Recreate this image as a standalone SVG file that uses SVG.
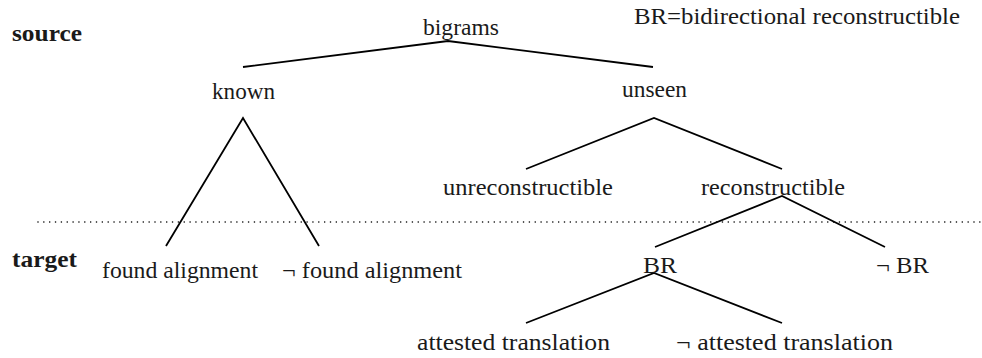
<svg xmlns="http://www.w3.org/2000/svg" width="982" height="358" viewBox="0 0 982 358">
<style>
text{font-family:"Liberation Serif","DejaVu Serif",serif;font-size:22.5px;fill:#1a1a1a}
.b{font-weight:bold}
.e{stroke:#000;stroke-width:1.8;fill:none;stroke-linejoin:miter}
.dot{stroke:#000;stroke-width:1.6;stroke-linecap:round;stroke-dasharray:0 5.85;fill:none}
</style>
<rect width="982" height="358" fill="#fff"/>
<g id="labels">
<text class="b" x="12" y="41" textLength="70" lengthAdjust="spacingAndGlyphs">source</text>
<text class="b" x="12" y="267" textLength="65" lengthAdjust="spacingAndGlyphs">target</text>
<text x="634" y="24" textLength="326" lengthAdjust="spacingAndGlyphs">BR=bidirectional reconstructible</text>
</g>
<g id="sep"><line class="dot" x1="38" y1="222" x2="982" y2="222"/></g>
<g id="connectors">
<polyline class="e" points="243,67 448,41 653,67"/>
<polyline class="e" points="166,246 243,118 319,246"/>
<polyline class="e" points="526,169 654,118 782,169"/>
<polyline class="e" points="655,247 782,196 885,247"/>
<polyline class="e" points="526,323 654,273 782,323"/>
</g>
<g id="bigrams"><text x="423" y="35" textLength="76" lengthAdjust="spacingAndGlyphs">bigrams</text></g>
<g id="known"><text x="212" y="99" textLength="63" lengthAdjust="spacingAndGlyphs">known</text></g>
<g id="unseen"><text x="622" y="97" textLength="65" lengthAdjust="spacingAndGlyphs">unseen</text></g>
<g id="unreconstructible"><text x="443" y="195" textLength="170" lengthAdjust="spacingAndGlyphs">unreconstructible</text></g>
<g id="reconstructible"><text x="701" y="195" textLength="144" lengthAdjust="spacingAndGlyphs">reconstructible</text></g>
<g id="found"><text x="102" y="278" textLength="156" lengthAdjust="spacingAndGlyphs">found alignment</text></g>
<g id="notfound"><text x="282" y="278" textLength="180" lengthAdjust="spacingAndGlyphs">¬ found alignment</text></g>
<g id="BR"><text x="643" y="273" textLength="34" lengthAdjust="spacingAndGlyphs">BR</text></g>
<g id="notBR"><text x="876" y="273" textLength="53" lengthAdjust="spacingAndGlyphs">¬ BR</text></g>
<g id="attested"><text x="417" y="350" textLength="193" lengthAdjust="spacingAndGlyphs">attested translation</text></g>
<g id="notattested"><text x="676" y="350" textLength="217" lengthAdjust="spacingAndGlyphs">¬ attested translation</text></g>
</svg>
